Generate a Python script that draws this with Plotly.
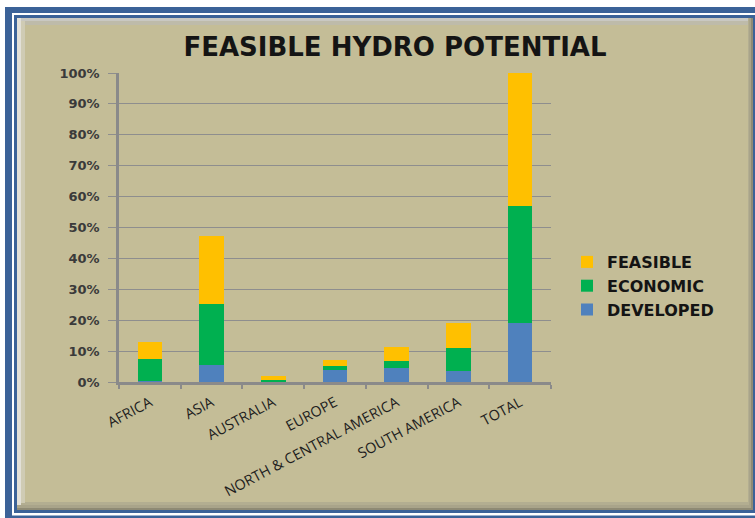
import plotly.graph_objects as go

# Regions and their share of the world total (percent), one array per stacked segment
regions = ["AFRICA", "ASIA", "AUSTRALIA", "EUROPE", "NORTH & CENTRAL AMERICA",
           "SOUTH AMERICA", "TOTAL"]
developed = [0.4, 5.5, 0.2, 4.0, 4.5, 3.5, 19.1]
economic = [7.1, 19.6, 0.5, 1.2, 2.2, 7.5, 38.0]
feasible = [5.5, 22.2, 1.2, 1.8, 4.6, 8.1, 42.9]
y_ticks = [0, 10, 20, 30, 40, 50, 60, 70, 80, 90, 100]
y_tick_labels = ["0%", "10%", "20%", "30%", "40%", "50%", "60%", "70%", "80%",
                 "90%", "100%"]

# Page geometry in pixels
FIG_W, FIG_H = 755, 518
PLOT_L, PLOT_R, PLOT_T, PLOT_B = 119, 551, 73, 382
PW, PH = PLOT_R - PLOT_L, PLOT_B - PLOT_T


def px_x(p):
    return (p - PLOT_L) / PW


def px_y(p):
    return (PLOT_B - p) / PH


def box(x0, y0, x1, y1, color):
    return dict(type="rect", xref="paper", yref="paper", layer="below",
                x0=px_x(x0), x1=px_x(x1), y0=px_y(y1), y1=px_y(y0),
                fillcolor=color, line=dict(width=0))


BLUE_FRAME = "#3B6298"
TAN = "#C4BD97"

frame = [
    box(5, 7, 780, 540, BLUE_FRAME),
    box(12, 13, 780, 515.5, "#FFFFFF"),
    box(14, 15, 756, 513, BLUE_FRAME),
    box(17, 18, 753, 510, "#8E8A74"),
    box(17, 18, 751, 508, "#A9A48A"),
    box(17, 18, 749, 505, "#B3AE91"),
    box(17, 18, 748, 21, "#C9C8C2"),
    box(17, 18, 21, 505, "#E2E0D8"),
    box(21, 21, 748, 25, "#BEBBAA"),
    box(21, 21, 25, 503, "#CFCBB4"),
    box(25, 25, 748, 502, TAN),
]

fig = go.Figure()
fig.add_bar(name="DEVELOPED", x=regions, y=developed, marker_color="#4F81BD")
fig.add_bar(name="ECONOMIC", x=regions, y=economic, marker_color="#00B050")
fig.add_bar(name="FEASIBLE", x=regions, y=feasible, marker_color="#FFC000")
fig.update_traces(marker_line_width=0)

fig.update_layout(
    width=FIG_W, height=FIG_H,
    margin=dict(l=PLOT_L, r=FIG_W - PLOT_R, t=PLOT_T, b=FIG_H - PLOT_B),
    paper_bgcolor="#FFFFFF",
    plot_bgcolor="rgba(0,0,0,0)",
    barmode="stack",
    bargap=0.6,
    shapes=frame,
    title=dict(text="FEASIBLE HYDRO POTENTIAL", xref="container", yref="container",
               x=395 / FIG_W, y=1 - 47 / FIG_H, xanchor="center", yanchor="middle",
               font=dict(family="DejaVu Sans", size=26, color="#141414", weight="bold")),
    legend=dict(x=px_x(567), y=px_y(245), xanchor="left", yanchor="top",
                traceorder="reversed", bgcolor="rgba(0,0,0,0)",
                font=dict(family="DejaVu Sans", size=16, color="#141414", weight="bold")),
    showlegend=True,
)

fig.update_yaxes(
    range=[0, 100], tickmode="array", tickvals=y_ticks, ticktext=y_tick_labels,
    showgrid=True, gridcolor="#8E8E8E", gridwidth=1,
    showline=True, linecolor="#8A8A8A", linewidth=2.5,
    ticks="outside", ticklen=8, tickcolor="#8E8E8E", tickwidth=1,
    ticklabelstandoff=6, zeroline=False,
    tickfont=dict(family="DejaVu Sans", size=13, color="#3A3A3A", weight="bold"),
)
fig.update_xaxes(
    showline=True, linecolor="#8A8A8A", linewidth=2.5,
    ticks="outside", tickson="boundaries", ticklen=4, tickcolor="#8A8A8A", tickwidth=1.5,
    tickangle=-28, ticklabelstandoff=4,
    tickfont=dict(family="Open Sans", size=14.5, color="#1E1E1E"),
)

fig.write_html("out.html")
